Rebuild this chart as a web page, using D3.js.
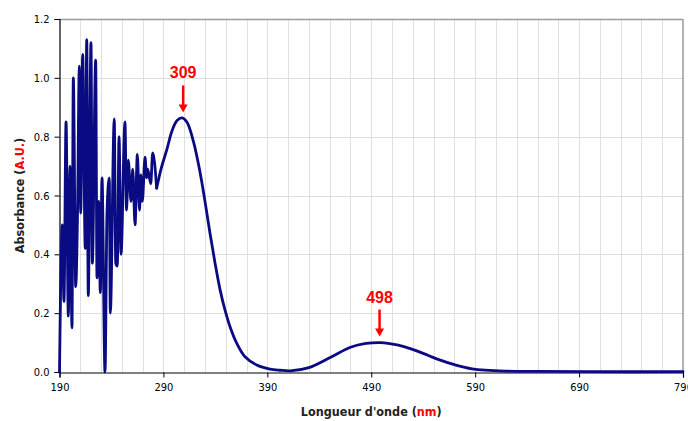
<!DOCTYPE html>
<html>
<head>
<meta charset="utf-8">
<script src="https://cdn.jsdelivr.net/npm/d3@7"></script>
<style>
  html, body { margin: 0; padding: 0; background: #fff; }
  svg { display: block; }
  text { font-family: "DejaVu Sans Condensed", "DejaVu Sans", sans-serif; }
</style>
</head>
<body>
<svg id="chart" width="688" height="421"></svg>
<script>
// ---- data ----
const wavelength = [190, 192.7, 194.3, 196.3, 198.5, 200.1, 202.0, 203.3, 205.6, 207.3,
  209.1, 210.4, 212.3, 214.8, 216.2, 217.7, 220.3, 221.6, 224.8, 226.1,
  227.7, 229.3, 230.9, 233.8, 235.7, 237.9, 238.9, 242.7, 244.1, 245.6,
  247.3, 249.2, 253.0, 254.5, 256.2, 258.8, 260.5, 262.7, 264.9, 267.0,
  268.2, 269.7, 272.3, 273.9, 274.9, 277.8, 279.7, 283.5, 287.7, 293.2,
  298.3, 303.1, 308.0, 312.7, 318.8, 325.2, 330.0, 334.9, 339.7, 344.5,
  349.3, 354.1, 360.5, 368.5, 379.8, 392.6, 402.2, 412, 430, 451,
  470, 485, 499, 515, 529, 545, 555, 570, 587, 619,
  650, 700, 790];
const absorbance = [0.00, 0.50, 0.24, 0.85, 0.19, 0.70, 0.15, 1.00, 0.29, 0.53,
  1.04, 0.54, 1.08, 0.42, 1.13, 0.26, 1.12, 0.37, 1.06, 0.32,
  0.58, 0.27, 0.66, 0.00, 0.54, 0.66, 0.20, 0.86, 0.37, 0.36,
  0.80, 0.40, 0.85, 0.55, 0.72, 0.58, 0.69, 0.50, 0.74, 0.55,
  0.67, 0.58, 0.73, 0.66, 0.69, 0.64, 0.745, 0.625, 0.69, 0.755,
  0.82, 0.855, 0.864, 0.849, 0.785, 0.68, 0.58, 0.47, 0.37, 0.28,
  0.21, 0.154, 0.098, 0.052, 0.024, 0.010, 0.006, 0.004, 0.015, 0.050,
  0.084, 0.097, 0.100, 0.092, 0.078, 0.056, 0.042, 0.025, 0.011, 0.003,
  0.002, 0.001, 0.001];
const xTicks = [190, 290, 390, 490, 590, 690, 790];
const yTicks = [0, 0.2, 0.4, 0.6, 0.8, 1.0, 1.2];
const peakLabels = ["309", "498"];
const peakX = [309, 498];
const peakY = [0.862, 0.100];
const smoothFrom = 283.5; // beyond this wavelength the spectrum is a smooth curve

// ---- layout ----
const pLeft = 59.5, pRight = 683, pTop = 19, pBottom = 372;
const svg = d3.select("#chart");
const x = d3.scaleLinear().domain([190, 790]).range([pLeft, pRight]);
const y = d3.scaleLinear().domain([0, 1.2]).range([pBottom, pTop]);

// grid: vertical every 20 nm, horizontal every 0.2
const gridX = d3.range(210, 790, 20);
svg.append("g").selectAll("line").data(gridX).join("line")
  .attr("x1", d => Math.round(x(d)) + 0.5).attr("x2", d => Math.round(x(d)) + 0.5)
  .attr("y1", pTop).attr("y2", pBottom)
  .attr("stroke", "#e0e0e0").attr("stroke-width", 1);
svg.append("g").selectAll("line").data(yTicks.slice(1, -1)).join("line")
  .attr("x1", pLeft).attr("x2", pRight)
  .attr("y1", d => Math.round(y(d)) + 0.5).attr("y2", d => Math.round(y(d)) + 0.5)
  .attr("stroke", "#dcdcdc").attr("stroke-width", 1);

// top and right frame
svg.append("line").attr("x1", pLeft).attr("x2", pRight).attr("y1", pTop + 0.5).attr("y2", pTop + 0.5)
  .attr("stroke", "#9a9a9a").attr("stroke-width", 1.5);
svg.append("line").attr("x1", pRight).attr("x2", pRight).attr("y1", pTop).attr("y2", pBottom)
  .attr("stroke", "#9a9a9a").attr("stroke-width", 1.5);

// axes
const xAxis = d3.axisBottom(x).tickValues(xTicks).tickSize(5).tickPadding(6).tickFormat(d3.format("d"));
const gx = svg.append("g").attr("transform", `translate(0,${pBottom + 0.5})`).call(xAxis);
gx.select(".domain").attr("stroke", "#000").attr("stroke-width", 1.2);
gx.selectAll(".tick line").attr("stroke", "#000");
gx.selectAll("text").attr("font-size", 11).attr("fill", "#000")
  .style("font-family", '"DejaVu Sans Condensed", "DejaVu Sans", sans-serif');

const yAxis = d3.axisLeft(y).tickValues(yTicks).tickSize(5).tickPadding(5).tickFormat(d3.format(".1f"));
const gy = svg.append("g").attr("transform", `translate(${pLeft},0)`).call(yAxis);
gy.select(".domain").attr("stroke", "#000").attr("stroke-width", 1.2);
gy.selectAll(".tick line").attr("stroke", "#000");
gy.selectAll("text").attr("font-size", 11).attr("fill", "#000")
  .style("font-family", '"DejaVu Sans Condensed", "DejaVu Sans", sans-serif');

// spectrum line: noisy UV part (near-linear), smooth part (Catmull-Rom)
const pts = wavelength.map((w, i) => [w, absorbance[i]]);
const noisy = pts.filter(d => d[0] <= smoothFrom);
const smooth = pts.filter(d => d[0] >= smoothFrom);
const lineNoisy = d3.line().x(d => x(d[0])).y(d => y(d[1])).curve(d3.curveMonotoneX);
const lineSmooth = d3.line().x(d => x(d[0])).y(d => y(d[1])).curve(d3.curveCatmullRom.alpha(0.5));
[[noisy, lineNoisy], [smooth, lineSmooth]].forEach(([data, gen]) => {
  svg.append("path").datum(data)
    .attr("d", gen)
    .attr("fill", "none")
    .attr("stroke", "#0a0a82")
    .attr("stroke-width", 2.8)
    .attr("stroke-linejoin", "round")
    .attr("stroke-linecap", "round");
});

// axis titles
const xt = svg.append("text").attr("x", (pLeft + pRight) / 2).attr("y", 416)
  .attr("text-anchor", "middle").attr("font-size", 12.5).attr("font-weight", "bold").attr("fill", "#222");
xt.append("tspan").text("Longueur d'onde (");
xt.append("tspan").attr("fill", "#ff0000").text("nm");
xt.append("tspan").text(")");

const yt = svg.append("text").attr("transform", `translate(24,${(pTop + pBottom) / 2}) rotate(-90)`)
  .attr("text-anchor", "middle").attr("font-size", 12.5).attr("font-weight", "bold").attr("fill", "#222");
yt.append("tspan").text("Absorbance (");
yt.append("tspan").attr("fill", "#ff0000").text("A.U.");
yt.append("tspan").text(")");

// peak annotations
peakLabels.forEach((lab, i) => {
  const px = x(peakX[i]);
  const tip = y(peakY[i]) - 6;
  svg.append("line").attr("x1", px).attr("x2", px)
    .attr("y1", tip - 27).attr("y2", tip - 6)
    .attr("stroke", "#ff0000").attr("stroke-width", 2.5);
  svg.append("path")
    .attr("d", `M${px - 4.5},${tip - 8} L${px + 4.5},${tip - 8} L${px},${tip} Z`)
    .attr("fill", "#ff0000");
  svg.append("text").attr("x", px).attr("y", tip - 34)
    .attr("text-anchor", "middle").attr("font-size", 16).attr("font-weight", "bold")
    .attr("fill", "#ff0000")
    .style("font-family", '"Liberation Sans", Arial, sans-serif')
    .text(lab);
});
</script>
</body>
</html>
